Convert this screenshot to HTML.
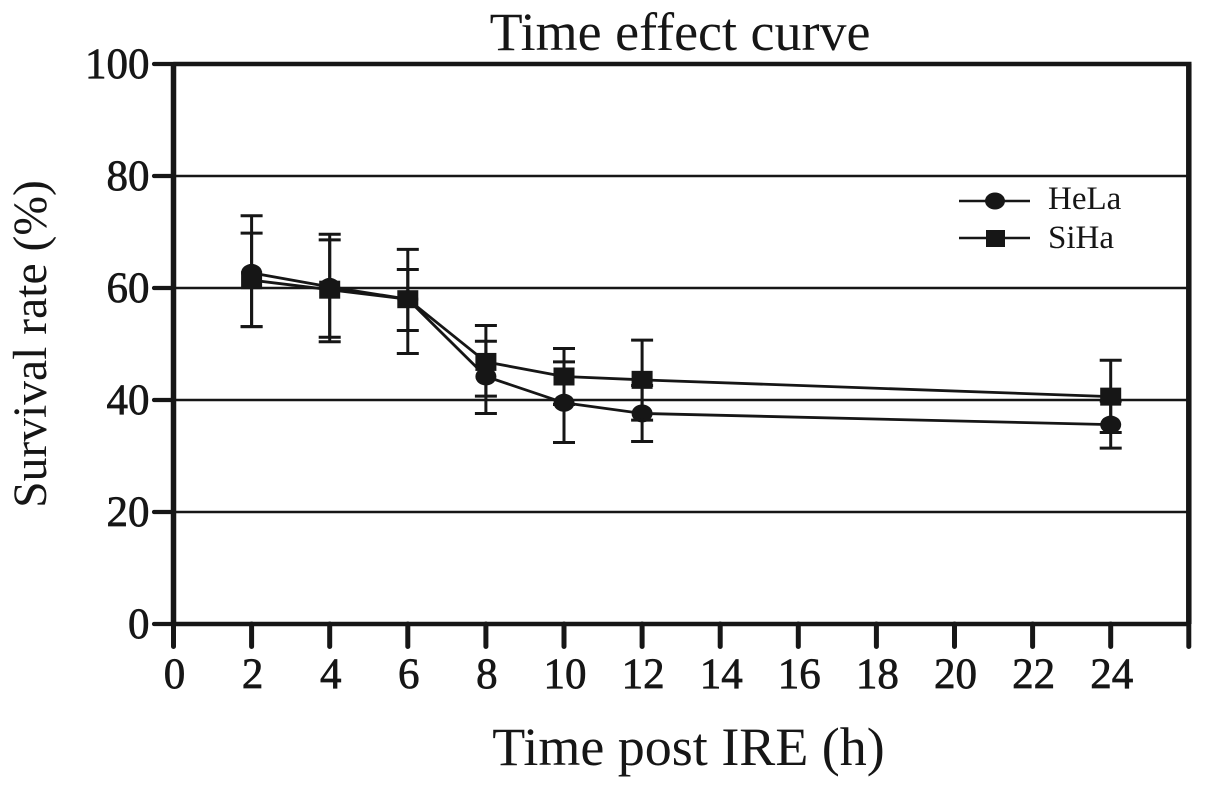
<!DOCTYPE html>
<html>
<head>
<meta charset="utf-8">
<title>Time effect curve</title>
<style>
  html, body { margin: 0; padding: 0; background: #fff; }
  svg { display: block; }
  text { font-family: "Liberation Serif", serif; fill: #161616; }
</style>
</head>
<body>
<svg id="chart" xmlns="http://www.w3.org/2000/svg" width="1205" height="788" viewBox="0 0 1205 788">
  <rect width="1205" height="788" fill="#fff"/>
  <text x="680" y="50" font-size="54" text-anchor="middle">Time effect curve</text>
  <text x="688.5" y="765" font-size="54" text-anchor="middle">Time post IRE (h)</text>
  <text transform="translate(46,344) rotate(-90)" font-size="47.6" text-anchor="middle">Survival rate (%)</text>
  <g id="grid"></g>
  <g id="axes"></g>
  <g id="series"></g>
  <g>
    <g>
      <line x1="959" y1="201" x2="1030" y2="201" stroke="#161616" stroke-width="2.6"/>
      <ellipse cx="995" cy="201" rx="10" ry="8.5" fill="#161616"/>
      <text x="1048" y="209" font-size="33">HeLa</text>
    </g>
    <g>
      <line x1="959" y1="238" x2="1030" y2="238" stroke="#161616" stroke-width="2.6"/>
      <rect x="986" y="230" width="19" height="17" fill="#161616"/>
      <text x="1048" y="248" font-size="33">SiHa</text>
    </g>
  </g>
</svg>
<script>
var xTicks = [0, 2, 4, 6, 8, 10, 12, 14, 16, 18, 20, 22, 24, 26];
var xTickLabels = ["0", "2", "4", "6", "8", "10", "12", "14", "16", "18", "20", "22", "24", ""];
var yTicks = [0, 20, 40, 60, 80, 100];
var yTickLabels = ["0", "20", "40", "60", "80", "100"];
var times = [2, 4, 6, 8, 10, 12, 24];
var helaValues = [62.7, 60.2, 58.0, 44.2, 39.5, 37.6, 35.6];
var helaUpper = [72.9, 69.6, 66.9, 50.5, 46.8, 42.6, 39.8];
var helaLower = [53.1, 50.4, 48.3, 37.6, 32.4, 32.6, 31.4];
var sihaValues = [61.4, 59.7, 58.0, 46.8, 44.2, 43.6, 40.6];
var sihaUpper = [69.8, 68.6, 63.3, 53.3, 49.2, 50.7, 47.1];
var sihaLower = [53.1, 51.2, 52.4, 40.7, 39.2, 36.4, 34.2];

var NS = 'http://www.w3.org/2000/svg';
var INK = '#161616';
function xPos(v) { return 173.5 + v * 39.05; }
function yPos(v) { return 624 - v * 5.6; }
function make(tag, attrs, parent) {
  var el = document.createElementNS(NS, tag);
  for (var k in attrs) { el.setAttribute(k, attrs[k]); }
  parent.appendChild(el);
  return el;
}
var grid = document.getElementById('grid');
var axes = document.getElementById('axes');
var seriesLayer = document.getElementById('series');

yTicks.forEach(function (v, i) {
  if (v !== 0 && v !== 100) {
    var g = make('line', { x1: xPos(0), x2: xPos(26), y1: yPos(v), y2: yPos(v), stroke: INK, 'stroke-width': 2.6 }, grid);
    
    
  }
  var t = make('line', { x1: 154, x2: xPos(0), y1: yPos(v), y2: yPos(v), stroke: INK, 'stroke-width': 4.2, 'stroke-linecap': 'round' }, axes);
  
  
  var l = make('text', { x: 149.5, y: yPos(v) + 14, 'font-size': 43, 'text-anchor': 'end', stroke: INK, 'stroke-width': 0.7 }, axes);
  
  
  l.textContent = yTickLabels[i];
});

xTicks.forEach(function (v, i) {
  var t = make('line', { x1: xPos(v), x2: xPos(v), y1: yPos(0), y2: 646.5, stroke: INK, 'stroke-width': 5, 'stroke-linecap': 'round' }, axes);
  
  
  if (xTickLabels[i]) {
    var l = make('text', { x: xPos(v) + 1, y: 688, 'font-size': 43, 'text-anchor': 'middle', stroke: INK, 'stroke-width': 0.7 }, axes);
    
    
    l.textContent = xTickLabels[i];
  }
});

var frameLeft = make('line', { x1: xPos(0), x2: xPos(0), y1: yPos(100), y2: yPos(0), stroke: INK, 'stroke-width': 5.5 }, axes);


var frameRight = make('line', { x1: xPos(26), x2: xPos(26), y1: yPos(100), y2: yPos(0), stroke: INK, 'stroke-width': 5.5 }, axes);


var frameTop = make('line', { x1: xPos(0), x2: xPos(26) + 2.7, y1: yPos(100), y2: yPos(100), stroke: INK, 'stroke-width': 4.5 }, axes);


var axisBottom = make('line', { x1: xPos(0), x2: xPos(26), y1: yPos(0), y2: yPos(0), stroke: INK, 'stroke-width': 4.5 }, axes);



function drawSeries(name, values, upper, lower, marker) {
  var pts = times.map(function (t, i) { return xPos(t) + ',' + yPos(values[i]); }).join(' ');
  var line = make('polyline', { points: pts, fill: 'none', stroke: INK, 'stroke-width': 2.8 }, seriesLayer);
  
  
  times.forEach(function (t, i) {
    var x = xPos(t);
    var g = make('g', {}, seriesLayer);
    
    
    make('line', { x1: x, x2: x, y1: yPos(upper[i]), y2: yPos(lower[i]), stroke: INK, 'stroke-width': 3 }, g);
    make('line', { x1: x - 11, x2: x + 11, y1: yPos(upper[i]), y2: yPos(upper[i]), stroke: INK, 'stroke-width': 3 }, g);
    make('line', { x1: x - 11, x2: x + 11, y1: yPos(lower[i]), y2: yPos(lower[i]), stroke: INK, 'stroke-width': 3 }, g);
    if (marker === 'circle') {
      make('ellipse', { cx: x, cy: yPos(values[i]), rx: 10.5, ry: 9, fill: INK }, g);
    } else {
      make('rect', { x: x - 10.5, y: yPos(values[i]) - 9, width: 21, height: 18, fill: INK }, g);
    }
  });
}
drawSeries('hela', helaValues, helaUpper, helaLower, 'circle');
drawSeries('siha', sihaValues, sihaUpper, sihaLower, 'square');
</script>
</body>
</html>
